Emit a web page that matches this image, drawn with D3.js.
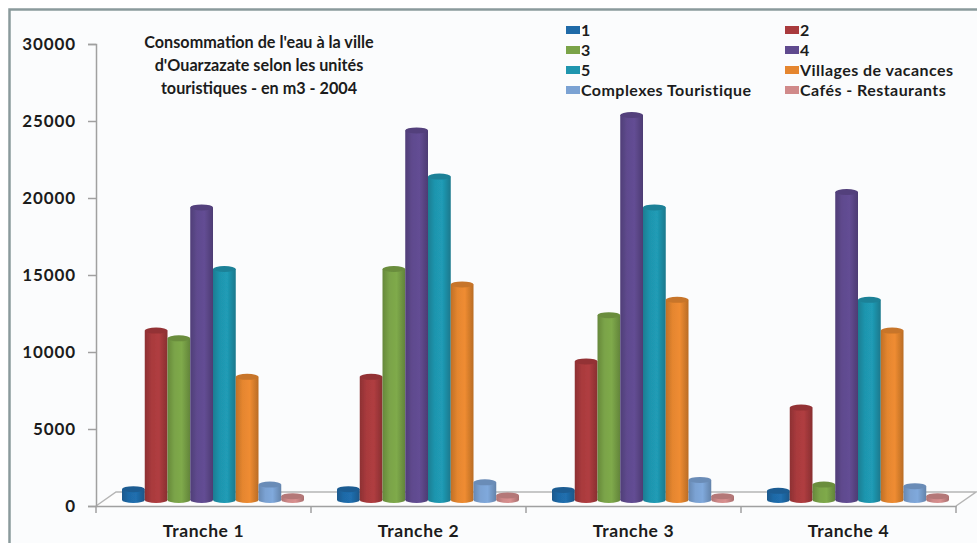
<!DOCTYPE html>
<html>
<head>
<meta charset="utf-8">
<script src="https://cdn.jsdelivr.net/npm/d3@7"></script>
<style>
  html, body { margin: 0; padding: 0; background: #fff; }
  svg { display: block; }
  text { font-family: Lato, "Open Sans", sans-serif; font-weight: 700; fill: #1c1c1c; }
</style>
</head>
<body>
<div id="main"></div>
<script>
var tranches = ["Tranche 1", "Tranche 2", "Tranche 3", "Tranche 4"];
var seriesNames = ["1", "2", "3", "4", "5", "Villages de vacances", "Complexes Touristique", "Cafés - Restaurants"];
var seriesColors = ["#1f6aa8", "#a93a3d", "#7aa348", "#5f4a8e", "#1f95ae", "#e5862f", "#7ba2d3", "#d08a8a"];

var serie1 = [700, 700, 650, 600];
var serie2 = [11000, 8000, 9000, 6000];
var serie3 = [10500, 15000, 12000, 1000];
var serie4 = [19000, 24000, 25000, 20000];
var serie5 = [15000, 21000, 19000, 13000];
var villages = [8000, 14000, 13000, 11000];
var complexes = [1000, 1150, 1300, 900];
var cafes = [250, 300, 250, 250];
var allSeries = [serie1, serie2, serie3, serie4, serie5, villages, complexes, cafes];

var yTicks = [0, 5000, 10000, 15000, 20000, 25000, 30000];
var titleLines = ["Consommation de l'eau à la ville", "d'Ouarzazate selon les unités", "touristiques - en m3 - 2004"];

var width = 977;
var height = 543;

// floor depth of the fake 3d box
var depthX = 20;
var depthY = 14;
var barLift = 6;

var svg = d3.select("#main").append("svg")
  .attr("width", width)
  .attr("height", height);

var defs = svg.append("defs");

defs.append("filter").attr("id", "soft")
  .append("feGaussianBlur").attr("stdDeviation", 0.7);

seriesColors.forEach(function(c, i) {
  var g = defs.append("linearGradient").attr("id", "cyl" + i);
  g.append("stop").attr("offset", "0%").attr("stop-color", d3.color(c).darker(0.5));
  g.append("stop").attr("offset", "30%").attr("stop-color", c);
  g.append("stop").attr("offset", "62%").attr("stop-color", d3.color(c).brighter(0.12));
  g.append("stop").attr("offset", "100%").attr("stop-color", d3.color(c).darker(0.6));
});

// frame
svg.append("rect")
  .attr("x", 0).attr("y", 0).attr("width", width).attr("height", height)
  .attr("fill", "#fff");
svg.append("rect")
  .attr("x", 10).attr("y", 10).attr("width", width - 10).attr("height", height - 10)
  .attr("fill", "#fbfcfd");
svg.append("path")
  .attr("d", "M9.5," + height + "V9.5H" + width)
  .attr("fill", "none")
  .attr("stroke", "#8a9a9c")
  .attr("stroke-width", 2.5);

var x = d3.scaleBand().domain(tranches).range([96, 956]);
var xInner = d3.scaleBand().domain(d3.range(seriesNames.length)).range([26, 208]);
var y = d3.scaleLinear().domain([0, 30000]).range([506, 44]);

// floor
svg.append("path")
  .attr("d", "M96,506L" + (96 + depthX) + "," + (506 - depthY) + "H" + (956 + depthX) + "L956,506")
  .attr("fill", "#fdfdfd")
  .attr("stroke", "#b5b5b5")
  .attr("stroke-width", 1.5);

// axes
var yAxis = d3.axisLeft(y).tickValues(yTicks).tickSize(8).tickPadding(12).tickFormat(d3.format("d"));
var yG = svg.append("g").attr("transform", "translate(96,0)").call(yAxis);
var xAxis = d3.axisBottom(x).tickValues([]).tickSizeOuter(0);
var xG = svg.append("g").attr("transform", "translate(0,506)").call(xAxis);

[yG, xG].forEach(function(g) {
  g.selectAll("path, line").attr("stroke", "#a0a0a0").attr("stroke-width", 1.5);
});
yG.selectAll("text").attr("font-size", 17).style("letter-spacing", "0.9px").attr("fill", "#1c1c1c");

// x ticks sit between the groups
svg.selectAll(".xtick").data(d3.range(tranches.length + 1)).enter().append("line")
  .attr("class", "xtick")
  .attr("x1", function(d) { return 96 + d * x.bandwidth(); })
  .attr("x2", function(d) { return 96 + d * x.bandwidth(); })
  .attr("y1", 506).attr("y2", 513)
  .attr("stroke", "#a0a0a0").attr("stroke-width", 1.5);

svg.selectAll(".xlabel").data(tranches).enter().append("text")
  .attr("class", "xlabel")
  .attr("x", function(d) { return x(d) + x.bandwidth() / 2; })
  .attr("y", 537)
  .attr("text-anchor", "middle")
  .attr("font-size", 17.5)
  .style("letter-spacing", "0.6px")
  .text(function(d) { return d; });

// cylinders
var bars = svg.append("g").attr("filter", "url(#soft)");
tranches.forEach(function(t, ti) {
  allSeries.forEach(function(values, si) {
    var bx = x(t) + xInner(si);
    var bw = xInner.bandwidth();
    var base = y(0) - barLift;
    var top = y(values[ti]) - barLift;
    var g = bars.append("g");
    g.append("ellipse")
      .attr("cx", bx + bw / 2).attr("cy", base)
      .attr("rx", bw / 2).attr("ry", 3)
      .attr("fill", "url(#cyl" + si + ")");
    g.append("rect")
      .attr("x", bx).attr("y", top)
      .attr("width", bw).attr("height", base - top)
      .attr("fill", "url(#cyl" + si + ")");
    g.append("ellipse")
      .attr("cx", bx + bw / 2).attr("cy", top)
      .attr("rx", bw / 2).attr("ry", 3)
      .attr("fill", d3.color(seriesColors[si]).darker(0.4));
  });
});

// title
svg.selectAll(".title").data(titleLines).enter().append("text")
  .attr("class", "title")
  .attr("x", 259)
  .attr("y", function(d, i) { return 48 + i * 23; })
  .attr("text-anchor", "middle")
  .attr("font-size", 16.2)
  .text(function(d) { return d; });

// legend, two columns filled row by row
var legendX = d3.scalePoint().domain([0, 1]).range([566, 785]);
var legendY = d3.scalePoint().domain([0, 1, 2, 3]).range([30, 90]);
var legend = svg.selectAll(".legend").data(seriesNames).enter().append("g")
  .attr("class", "legend")
  .attr("transform", function(d, i) {
    return "translate(" + legendX(i % 2) + "," + legendY(Math.floor(i / 2)) + ")";
  });
legend.append("rect")
  .attr("x", 0).attr("y", -4)
  .attr("width", 14).attr("height", 8)
  .attr("fill", function(d, i) { return seriesColors[i]; });
legend.append("text")
  .attr("x", 15).attr("y", 5.5)
  .attr("font-size", 16)
  .style("letter-spacing", "0.45px")
  .text(function(d) { return d; });
</script>
</body>
</html>
